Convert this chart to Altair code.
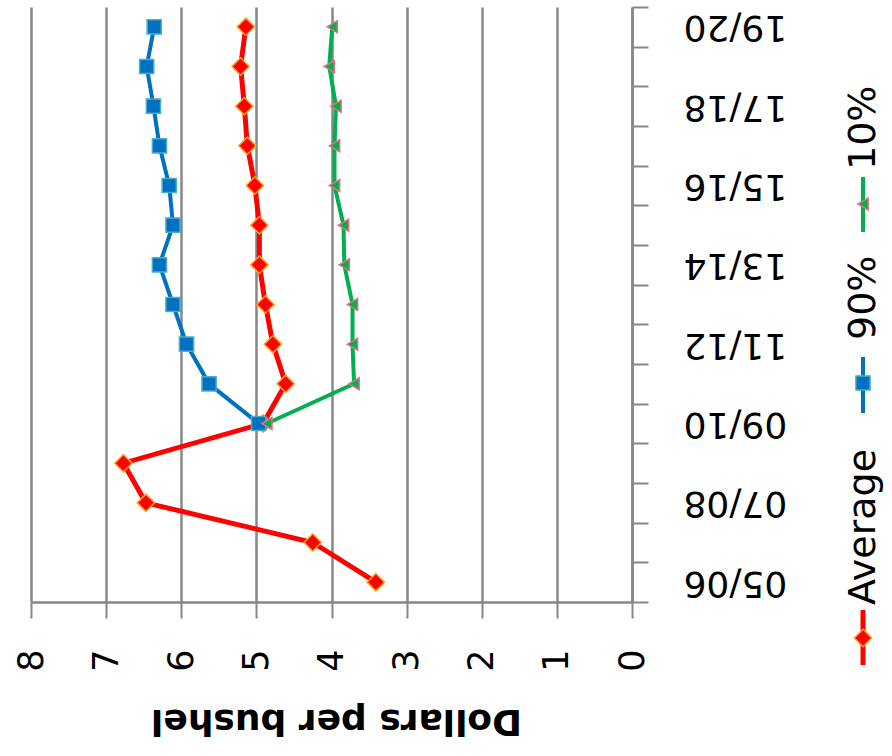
import altair as alt
import pandas as pd

# ---- data ----
categories = ["05/06", "06/07", "07/08", "08/09", "09/10", "10/11", "11/12", "12/13",
              "13/14", "14/15", "15/16", "16/17", "17/18", "18/19", "19/20"]
average = [3.41, 4.25, 6.47, 6.77, 4.91, 4.61, 4.78, 4.88, 4.96, 4.96, 5.02, 5.12, 5.16, 5.21, 5.14]
p90 = [None, None, None, None, 4.97, 5.63, 5.93, 6.11, 6.29, 6.11, 6.16, 6.29, 6.37, 6.46, 6.36]
p10 = [None, None, None, None, 4.86, 3.70, 3.72, 3.72, 3.83, 3.84, 3.96, 3.96, 3.94, 4.03, 3.99]
value_ticks = [0, 1, 2, 3, 4, 5, 6, 7, 8]
labeled_categories = categories[::2]
series_names = ["Average", "90%", "10%"]


def frame(values):
    rows = [(c, v) for c, v in zip(categories, values) if v is not None]
    return pd.DataFrame(rows, columns=["cat", "value"])


df_avg = frame(average)
df_90 = frame(p90)
df_10 = frame(p10)

GRAY = "#878787"
FONT = "DejaVu Sans"

label_list = "[" + ",".join("'%s'" % c for c in labeled_categories) + "]"

x_enc = alt.X(
    "value:Q",
    scale=alt.Scale(domain=[0, 8], reverse=True, nice=False, zero=True),
    axis=alt.Axis(
        values=value_ticks, orient="bottom", grid=True, gridColor=GRAY, gridWidth=2.5,
        domainColor=GRAY, domainWidth=2.5, tickColor=GRAY, tickWidth=2, tickSize=16,
        labelAngle=270, labelAlign="right", labelBaseline="middle", labelFontSize=35,
        labelFont=FONT, labelColor="black", labelPadding=31,
        title="Dollars per bushel", titleAngle=180, titleFontSize=36, titleFont=FONT,
        titleFontWeight="bold", titleColor="black", titleBaseline="middle",
        titleAlign="center", titleX=305, titleY=118,
    ),
)

y_enc = alt.Y(
    "cat:N",
    scale=alt.Scale(type="band", domain=categories[::-1], paddingInner=0, paddingOuter=0),
    bandPosition=0.5,
    axis=alt.Axis(
        orient="right", tickBand="extent", labelExpr="indexof(%s, datum.value) >= 0 ? datum.value : ''" % label_list,
        labelAngle=180, labelAlign="right", labelBaseline="middle", labelFontSize=36,
        labelFont=FONT, labelColor="black", labelPadding=35, labelOverlap=False,
        tickSize=16, tickColor=GRAY, tickWidth=2, domainColor=GRAY, domainWidth=2.5,
        grid=False, title=None,
    ),
)

styles = {
    "Average": dict(color="#FF0000", shape="diamond", fill="#FF0000", stroke="#FFA020", size=300, sw=5),
    "90%": dict(color="#0070C0", shape="square", fill="#0070C0", stroke="#4BACC6", size=200, sw=4),
    "10%": dict(color="#00B050", shape="triangle-left", fill="#00B050", stroke="#E07080", size=140, sw=4),
}

layers = []
for name, df in zip(series_names, [df_avg, df_90, df_10]):
    st = styles[name]
    base = alt.Chart(df).encode(x=x_enc, y=y_enc)
    layers.append(base.mark_line(color=st["color"], strokeWidth=st["sw"]))
    layers.append(base.mark_point(shape=st["shape"], filled=True, fill=st["fill"], stroke=st["stroke"],
                                  strokeWidth=1.5, size=st["size"], opacity=1))

# ---- manual legend (rotated text) ----
legend_pos = {
    "Average": dict(y0=603, y1=658, ym=631, ty=598),
    "90%": dict(y0=350, y1=406, ym=376, ty=333),
    "10%": dict(y0=170, y1=225, ym=197, ty=163),
}
for name in series_names:
    st = styles[name]
    p = legend_pos[name]
    ldf = pd.DataFrame({"label": [name]})
    lb = alt.Chart(ldf)
    layers.append(lb.mark_rule(color=st["color"], strokeWidth=st["sw"]).encode(
        x=alt.value(832), y=alt.value(p["y0"]), y2=alt.value(p["y1"])))
    layers.append(lb.mark_point(shape=st["shape"], filled=True, fill=st["fill"], stroke=st["stroke"],
                                strokeWidth=1.5, size=st["size"], opacity=1).encode(
        x=alt.value(832), y=alt.value(p["ym"])))
    layers.append(lb.mark_text(angle=270, align="left", baseline="middle", fontSize=38, font=FONT,
                               color="black").encode(
        text="label:N", x=alt.value(833), y=alt.value(p["ty"])))

chart = alt.layer(*layers).properties(
    width=601, height=595,
    padding={"left": 31, "top": 7, "right": 260, "bottom": 154},
    autosize=alt.AutoSizeParams(type="none"),
    background="white",
).configure_view(stroke=None)

chart.save("out.html", embed_options={"renderer": "svg", "actions": False})
